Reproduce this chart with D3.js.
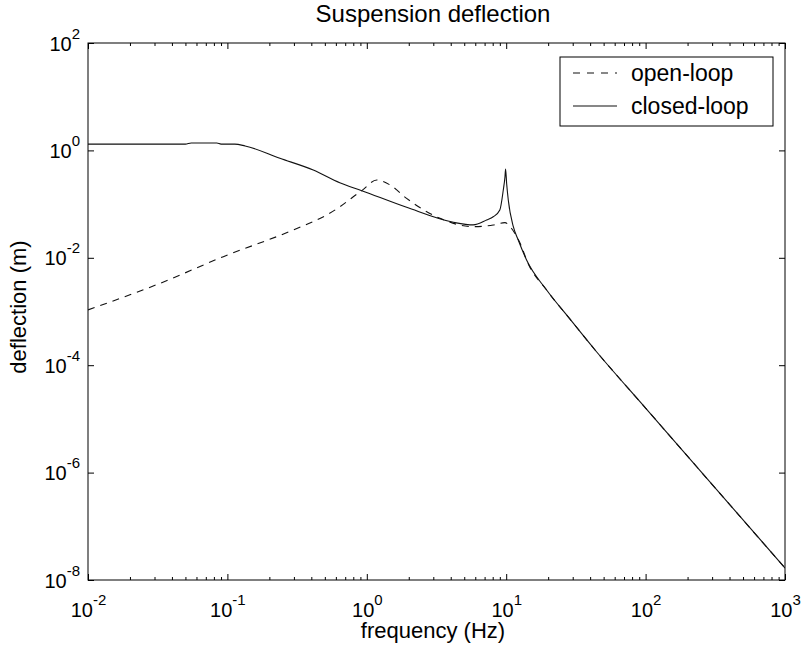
<!DOCTYPE html>
<html>
<head>
<meta charset="utf-8">
<script src="https://cdn.jsdelivr.net/npm/d3@7"></script>
<style>
  html, body { margin: 0; padding: 0; background: #fff; }
  svg { display: block; font-family: "Liberation Sans", Arial, Helvetica, sans-serif; }
</style>
</head>
<body>
<svg id="chart" width="807" height="661"></svg>
<script>
// ---- data ----
const closedFreq = [0.01, 0.05, 0.055, 0.084, 0.09, 0.113, 0.134, 0.238, 0.413, 0.64, 0.92, 1.93, 4.18, 5.8, 7.24, 8.07, 9.0, 9.53, 9.8, 9.9, 10.07, 10.35, 11.25, 12.2, 14.0, 19.5, 28.7, 43.4, 100, 1000];
const closedVal  = [1.31, 1.31, 1.37, 1.37, 1.31, 1.31, 1.21, 0.713, 0.431, 0.25, 0.178, 0.087, 0.0458, 0.041, 0.0506, 0.058, 0.0776, 0.183, 0.324, 0.45, 0.244, 0.119, 0.038, 0.0215, 0.0091, 0.00251, 0.00072, 1.92e-4, 1.59e-5, 1.67e-8];

const openFreq = [0.01, 0.0329, 0.0935, 0.297, 0.515, 0.643, 0.8, 0.92, 1.18, 1.47, 1.93, 2.69, 3.35, 5.8, 8.07, 9.79, 10.9, 11.9, 12.9, 14.0, 19.5, 28.7, 43.4, 100, 1000];
const openVal  = [1.07e-3, 3.35e-3, 0.0105, 0.033, 0.0627, 0.0895, 0.137, 0.178, 0.281, 0.227, 0.128, 0.0723, 0.0543, 0.038, 0.0408, 0.0451, 0.0355, 0.0247, 0.0161, 0.0091, 0.00251, 0.00072, 1.92e-4, 1.59e-5, 1.67e-8];

const xMajorTicks = [1e-2, 1e-1, 1e0, 1e1, 1e2, 1e3];
const xTickExp    = ["-2", "-1", "0", "1", "2", "3"];
const yMajorTicks = [1e2, 1e0, 1e-2, 1e-4, 1e-6, 1e-8];
const yTickExp    = ["2", "0", "-2", "-4", "-6", "-8"];

const seriesNames = ["open-loop", "closed-loop"];
const titleText = "Suspension deflection";
const xLabelText = "frequency (Hz)";
const yLabelText = "deflection (m)";

// ---- layout ----
const svg = d3.select("#chart");
const L = 88, R = 785, T = 43, B = 580;

const x = d3.scaleLog().domain([1e-2, 1e3]).range([L, R]);
const y = d3.scaleLog().domain([1e-8, 1e2]).range([B, T]);

const xMinor = [];
for (let d = -2; d < 3; d++) for (let m = 2; m <= 9; m++) xMinor.push(m * Math.pow(10, d));

// clip
svg.append("defs").append("clipPath").attr("id", "clip")
  .append("rect").attr("x", L).attr("y", T).attr("width", R - L).attr("height", B - T);

// frame
svg.append("rect").attr("x", L).attr("y", T).attr("width", R - L).attr("height", B - T)
  .attr("fill", "none").attr("stroke", "#000").attr("stroke-width", 1);

function styleAxis(g) {
  g.select(".domain").remove();
  g.selectAll(".tick line").attr("stroke", "#000").attr("stroke-width", 1);
}

// bottom major with labels
const gxb = svg.append("g").attr("transform", `translate(0,${B})`)
  .call(d3.axisBottom(x).tickValues(xMajorTicks).tickSize(-6).tickSizeOuter(0).tickFormat(""));
styleAxis(gxb);
gxb.selectAll(".tick text").each(function(d, i) {
  const t = d3.select(this);
  t.text("").attr("y", 37).attr("dy", null).attr("fill", "#000")
    .attr("font-size", 20).attr("text-anchor", "middle").attr("font-family", null);
  t.append("tspan").text("10");
  t.append("tspan").attr("dy", -12).attr("font-size", 15).text(xTickExp[i]);
});
// bottom minor
styleAxis(svg.append("g").attr("transform", `translate(0,${B})`)
  .call(d3.axisBottom(x).tickValues(xMinor).tickSize(-3).tickSizeOuter(0).tickFormat("")));
// top major/minor
styleAxis(svg.append("g").attr("transform", `translate(0,${T})`)
  .call(d3.axisTop(x).tickValues(xMajorTicks).tickSize(-6).tickSizeOuter(0).tickFormat("")));
styleAxis(svg.append("g").attr("transform", `translate(0,${T})`)
  .call(d3.axisTop(x).tickValues(xMinor).tickSize(-3).tickSizeOuter(0).tickFormat("")));

// left with labels
const gyl = svg.append("g").attr("transform", `translate(${L},0)`)
  .call(d3.axisLeft(y).tickValues(yMajorTicks).tickSize(-6).tickSizeOuter(0).tickFormat(""));
styleAxis(gyl);
gyl.selectAll(".tick text").each(function(d, i) {
  const t = d3.select(this);
  t.text("").attr("x", -8).attr("dy", 7).attr("fill", "#000")
    .attr("font-size", 20).attr("text-anchor", "end").attr("font-family", null);
  t.append("tspan").text("10");
  t.append("tspan").attr("dy", -12).attr("font-size", 15).text(yTickExp[i]);
});
// right
styleAxis(svg.append("g").attr("transform", `translate(${R},0)`)
  .call(d3.axisRight(y).tickValues(yMajorTicks).tickSize(-6).tickSizeOuter(0).tickFormat("")));

// lines
const line = d3.line()
  .x(d => x(d[0])).y(d => y(d[1]))
  .curve(d3.curveMonotoneX);

const openData = openFreq.map((f, i) => [f, openVal[i]]);
const closedData = closedFreq.map((f, i) => [f, closedVal[i]]);

const plot = svg.append("g").attr("clip-path", "url(#clip)");
plot.append("path").datum(openData).attr("d", line)
  .attr("fill", "none").attr("stroke", "#111").attr("stroke-width", 1.1)
  .attr("stroke-dasharray", "7,6");
plot.append("path").datum(closedData).attr("d", line)
  .attr("fill", "none").attr("stroke", "#111").attr("stroke-width", 1.1);

// title and labels
svg.append("text").attr("x", 433).attr("y", 22).attr("text-anchor", "middle")
  .attr("font-size", 24).attr("fill", "#000").text(titleText);
svg.append("text").attr("x", 433).attr("y", 638).attr("text-anchor", "middle")
  .attr("font-size", 22).attr("fill", "#000").text(xLabelText);
svg.append("text").attr("transform", "translate(26,307) rotate(-90)").attr("text-anchor", "middle")
  .attr("font-size", 22).attr("fill", "#000").text(yLabelText);

// legend
const lg = svg.append("g");
lg.append("rect").attr("x", 560).attr("y", 57).attr("width", 213).attr("height", 69)
  .attr("fill", "#fff").attr("stroke", "#000").attr("stroke-width", 1);
const legendRows = [
  { name: seriesNames[0], dash: "7,7", y: 73 },
  { name: seriesNames[1], dash: null, y: 106 }
];
legendRows.forEach(r => {
  lg.append("line").attr("x1", 573).attr("x2", 617).attr("y1", r.y).attr("y2", r.y)
    .attr("stroke", "#111").attr("stroke-width", 1.1).attr("stroke-dasharray", r.dash);
  lg.append("text").attr("x", 631).attr("y", r.y + 8).attr("font-size", 23)
    .attr("fill", "#000").text(r.name);
});
</script>
</body>
</html>
